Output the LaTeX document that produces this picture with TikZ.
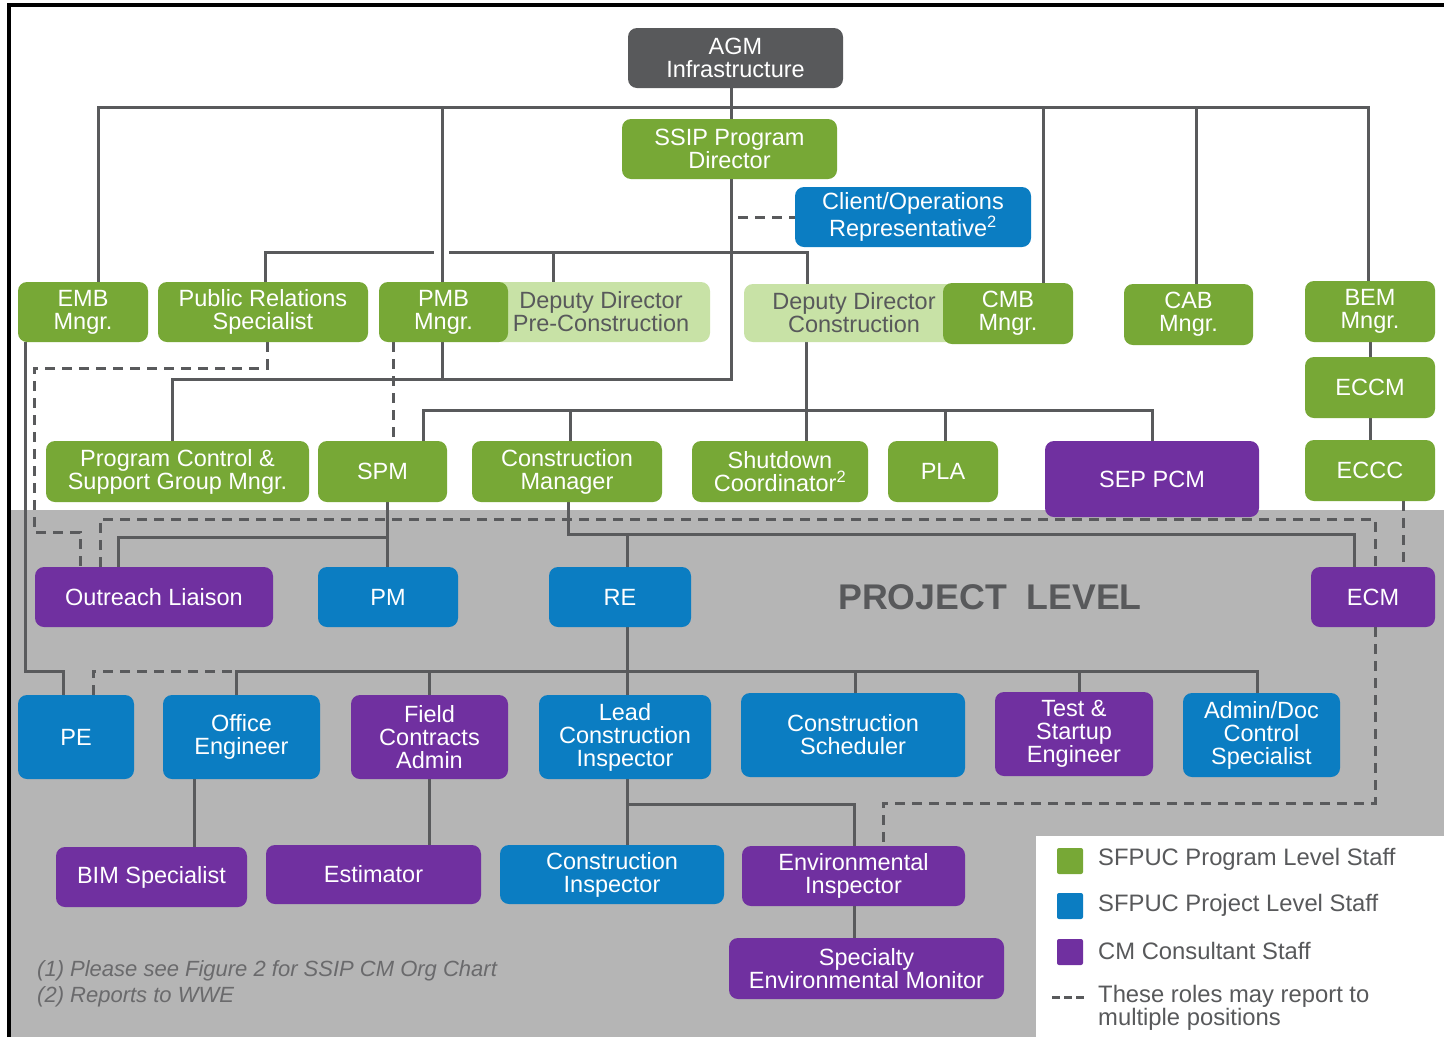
\documentclass[tikz,border=0pt]{standalone}
\usepackage{fontspec}
\setmainfont{Liberation Sans}
\definecolor{pgreen}{HTML}{77A836}
\definecolor{pblue}{HTML}{0B7DC2}
\definecolor{ppurple}{HTML}{7030A0}
\definecolor{plight}{HTML}{C8E2A6}
\definecolor{pdark}{HTML}{58595B}
\definecolor{pline}{HTML}{595A5C}
\definecolor{pbg}{HTML}{B5B5B5}
\definecolor{ptext}{HTML}{58595B}
\definecolor{pfoot}{HTML}{6A6A6C}
\pgfdeclarelayer{back}
\pgfdeclarelayer{lines}
\pgfsetlayers{back,lines,main}
\newcommand\bx[7]{\node[#2, minimum width={(#5-#3)*1pt}, minimum height={(#6-#4)*1pt}] (#1) at ({(#3+#5)/2},{(#4+#6)/2}) {#7};}
\begin{document}
\begin{tikzpicture}[x=1pt,y=-1pt,
  box/.style={rounded corners=9pt, inner sep=0pt, align=center, text=white,
    font=\fontsize{23.5}{23}\selectfont},
  gbox/.style={box, fill=pgreen},
  lbox/.style={box, fill=plight, text=ptext},
  bbox/.style={box, fill=pblue},
  vbox/.style={box, fill=ppurple},
  kbox/.style={box, fill=pdark},
  conn/.style={draw=pline, line width=3pt},
  dconn/.style={conn, dash pattern=on 10pt off 7pt},
  legsq/.style={inner sep=0pt, minimum width=26pt, minimum height=26pt, rounded corners=2pt},
  legtxt/.style={anchor=west, inner sep=0pt, text=ptext, align=left, font=\fontsize{23.8}{23}\selectfont}
]
\useasboundingbox (0,0) rectangle (1444,1037);
\begin{pgfonlayer}{back}
  \fill[white] (0,0) rectangle (1444,1037);
  \fill[pbg] (10,510) rectangle (1444,1037);
  \fill[white] (1036,836) rectangle (1444,1037);
  \draw[black, line width=4pt] (9,1037) -- (9,5) -- (1444,5);
\end{pgfonlayer}

% ---- nodes ----
\bx{agm}{kbox}{628}{28}{843}{88}{AGM\\Infrastructure}
\bx{ssip}{gbox}{622}{119}{837}{179}{SSIP Program\\Director}
\bx{client}{bbox}{795}{187}{1031}{247}{Client/Operations\\Representative\textsuperscript{2}}
\bx{emb}{gbox}{18}{282}{148}{342}{EMB\\Mngr.}
\bx{pr}{gbox}{158}{282}{368}{342}{Public Relations\\Specialist}
\bx{ddpre}{lbox}{492}{282}{710}{342}{Deputy Director\\Pre-Construction}
\bx{pmb}{gbox}{379}{282}{508}{342}{PMB\\Mngr.}
\bx{ddcon}{lbox}{744}{284}{964}{342}{Deputy Director\\Construction}
\bx{cmb}{gbox}{943}{283}{1073}{344}{CMB\\Mngr.}
\bx{cab}{gbox}{1124}{284}{1253}{345}{CAB\\Mngr.}
\bx{bem}{gbox}{1305}{281}{1435}{342}{BEM\\Mngr.}
\bx{eccm}{gbox}{1305}{357}{1435}{418}{ECCM}
\bx{eccc}{gbox}{1305}{440}{1435}{501}{ECCC}
\bx{pcsg}{gbox}{46}{441}{309}{502}{Program Control \&\\Support Group Mngr.}
\bx{spm}{gbox}{318}{441}{447}{502}{SPM}
\bx{cm}{gbox}{472}{441}{662}{502}{Construction\\Manager}
\bx{shut}{gbox}{692}{441}{868}{502}{Shutdown\\Coordinator\textsuperscript{2}}
\bx{pla}{gbox}{888}{441}{998}{502}{PLA}
\bx{sep}{vbox}{1045}{441}{1259}{517}{SEP PCM}
\bx{outreach}{vbox}{35}{567}{273}{627}{Outreach Liaison}
\bx{pm}{bbox}{318}{567}{458}{627}{PM}
\bx{re}{bbox}{549}{567}{691}{627}{RE}
\bx{ecm}{vbox}{1311}{567}{1435}{627}{ECM}
\bx{pe}{bbox}{18}{695}{134}{779}{PE}
\bx{oe}{bbox}{163}{695}{320}{779}{Office\\Engineer}
\bx{fca}{vbox}{351}{695}{508}{779}{Field\\Contracts\\Admin}
\bx{lci}{bbox}{539}{695}{711}{779}{Lead\\Construction\\Inspector}
\bx{cs}{bbox}{741}{693}{965}{777}{Construction\\Scheduler}
\bx{tse}{vbox}{995}{692}{1153}{776}{Test \&\\Startup\\Engineer}
\bx{adc}{bbox}{1183}{693}{1340}{777}{Admin/Doc\\Control\\Specialist}
\bx{bim}{vbox}{56}{847}{247}{907}{BIM Specialist}
\bx{est}{vbox}{266}{845}{481}{904}{Estimator}
\bx{ci}{bbox}{500}{845}{724}{904}{Construction\\Inspector}
\bx{ei}{vbox}{742}{846}{965}{906}{Environmental\\Inspector}
\bx{sem}{vbox}{729}{938}{1004}{999}{Specialty\\Environmental Monitor}

\node[text=ptext, inner sep=0pt, font=\bfseries\fontsize{35.7}{36}\selectfont] (plevel) at (990,597) {PROJECT\ \ LEVEL};
\node[anchor=west, inner sep=0pt, align=left, text=pfoot, font=\itshape\fontsize{22}{26}\selectfont] (foot) at (37,984) {(1) Please see Figure 2 for SSIP CM Org Chart\\(2) Reports to WWE};

% legend
\node[legsq, fill=pgreen] (lg1) at (1070,861) {};
\node[legsq, fill=pblue] (lg2) at (1070,906) {};
\node[legsq, fill=ppurple] (lg3) at (1070,952) {};
\node[legtxt] (lt1) at (1098,859) {SFPUC Program Level Staff};
\node[legtxt] (lt2) at (1098,905) {SFPUC Project Level Staff};
\node[legtxt] (lt3) at (1098,951) {CM Consultant Staff};
\node[legtxt, font=\fontsize{23.8}{22}\selectfont] (lt4) at (1098,1008) {These roles may report to\\multiple positions};
\coordinate (ld1) at (1052,997);
\coordinate (ld2) at (1086,997);

% ---- connectors ----
\begin{pgfonlayer}{lines}
  \coordinate (busL) at (98,107);
  \coordinate (busR) at (1368,107);
  \draw[conn] (emb.north -| busL) -- (busL) -- (busR) -- (bem.north -| busR);
  \draw[conn] (bem) -- (eccm);
  \draw[conn] (eccm) -- (eccc);
  \coordinate (xs) at (731,107);
  \coordinate (j379) at (731,379);
  \coordinate (pc379) at (172,379);
  \draw[conn] (agm.south -| xs) -- (ssip.north -| xs);
  \draw[conn] (ssip.south -| xs) -- (j379) -- (pc379) -- (pcsg.north -| pc379);
  \coordinate (xpmb) at (442,107);
  \draw[conn] (xpmb) -- (j379 -| xpmb);
  \coordinate (xcmb) at (1043,107);
  \draw[conn] (xcmb) -- (cmb.north -| xcmb);
  \coordinate (xcab) at (1196,107);
  \draw[conn] (xcab) -- (cab.north -| xcab);
  % line at 252
  \coordinate (h1a) at (265,252);
  \coordinate (h1b) at (434,252);
  \coordinate (h1c) at (449,252);
  \coordinate (h1d) at (807,252);
  \coordinate (h1e) at (553,252);
  \draw[conn] (pr.north -| h1a) -- (h1a) -- (h1b);
  \draw[conn] (h1c) -- (h1d) -- (ddcon.north -| h1d);
  \draw[conn] (h1e) -- (ddpre.north -| h1e);
  \coordinate (cl) at (738,217);
  \draw[dconn] (cl) -- (client.west);
  % deputy director construction
  \coordinate (d410) at (806,410);
  \coordinate (b410L) at (423,410);
  \coordinate (b410R) at (1152,410);
  \coordinate (k570) at (570,410);
  \coordinate (k945) at (945,410);
  \draw[conn] (ddcon.south -| d410) -- (d410);
  \draw[conn] (spm.north -| b410L) -- (b410L) -- (b410R) -- (sep.north -| b410R);
  \draw[conn] (k570) -- (cm.north -| k570);
  \draw[conn] (d410) -- (shut.north -| d410);
  \draw[conn] (k945) -- (pla.north -| k945);
  % SPM
  \coordinate (o537) at (387,537);
  \coordinate (o537L) at (118,537);
  \draw[conn] (spm.south -| o537) -- (pm.north -| o537);
  \draw[conn] (o537) -- (o537L) -- (outreach.north -| o537L);
  % CM
  \coordinate (c534) at (568,534);
  \coordinate (c534R) at (1354,534);
  \coordinate (r534) at (627,534);
  \draw[conn] (cm.south -| c534) -- (c534) -- (c534R) -- (ecm.north -| c534R);
  \draw[conn] (r534) -- (re.north -| r534);
  \draw[conn] (re.south -| r534) -- (lci.north -| r534);
  % row 671
  \coordinate (h671L) at (236,671);
  \coordinate (h671R) at (1257,671);
  \coordinate (k429) at (429,671);
  \coordinate (k855) at (855,671);
  \coordinate (k1079) at (1079,671);
  \draw[conn] (oe.north -| h671L) -- (h671L) -- (h671R) -- (adc.north -| h671R);
  \draw[conn] (k429) -- (fca.north -| k429);
  \draw[conn] (k855) -- (cs.north -| k855);
  \draw[conn] (k1079) -- (tse.north -| k1079);
  % EMB to PE
  \coordinate (e1) at (25,671);
  \coordinate (e2) at (63,671);
  \draw[conn] (emb.south -| e1) -- (e1) -- (e2) -- (pe.north -| e2);
  % lower
  \coordinate (xbim) at (194,800);
  \draw[conn] (oe.south -| xbim) -- (bim.north -| xbim);
  \draw[conn] (fca.south -| k429) -- (est.north -| k429);
  \coordinate (l804) at (627,804);
  \coordinate (l804R) at (854,804);
  \draw[conn] (lci.south -| l804) -- (ci.north -| l804);
  \draw[conn] (l804) -- (l804R) -- (ei.north -| l804R);
  \draw[conn] (ei.south -| l804R) -- (sem.north -| l804R);
  % dashed
  \coordinate (p1) at (267,368);
  \coordinate (p2) at (34,368);
  \coordinate (p3) at (34,532);
  \coordinate (p4) at (80,532);
  \draw[dconn] (pr.south -| p1) -- (p1) -- (p2) -- (p3) -- (p4) -- (outreach.north -| p4);
  \coordinate (xd393) at (393,400);
  \draw[dconn] (pmb.south -| xd393) -- (spm.north -| xd393);
  \coordinate (q1) at (100,519);
  \coordinate (q2) at (1375,519);
  \draw[dconn] (outreach.north -| q1) -- (q1) -- (q2) -- (ecm.north -| q2);
  \coordinate (q3) at (1375,803);
  \coordinate (q4) at (883,803);
  \draw[dconn] (ecm.south -| q3) -- (q3) -- (q4) -- (ei.north -| q4);
  \coordinate (xd1403) at (1403,530);
  \draw[dconn] (eccc.south -| xd1403) -- (ecm.north -| xd1403);
  \coordinate (pe671) at (93,671);
  \draw[dconn] (pe.north -| pe671) -- (pe671) -- (h671L);
  \draw[conn, dash pattern=on 8pt off 4pt] (ld1) -- (ld2);
\end{pgfonlayer}
\end{tikzpicture}
\end{document}
